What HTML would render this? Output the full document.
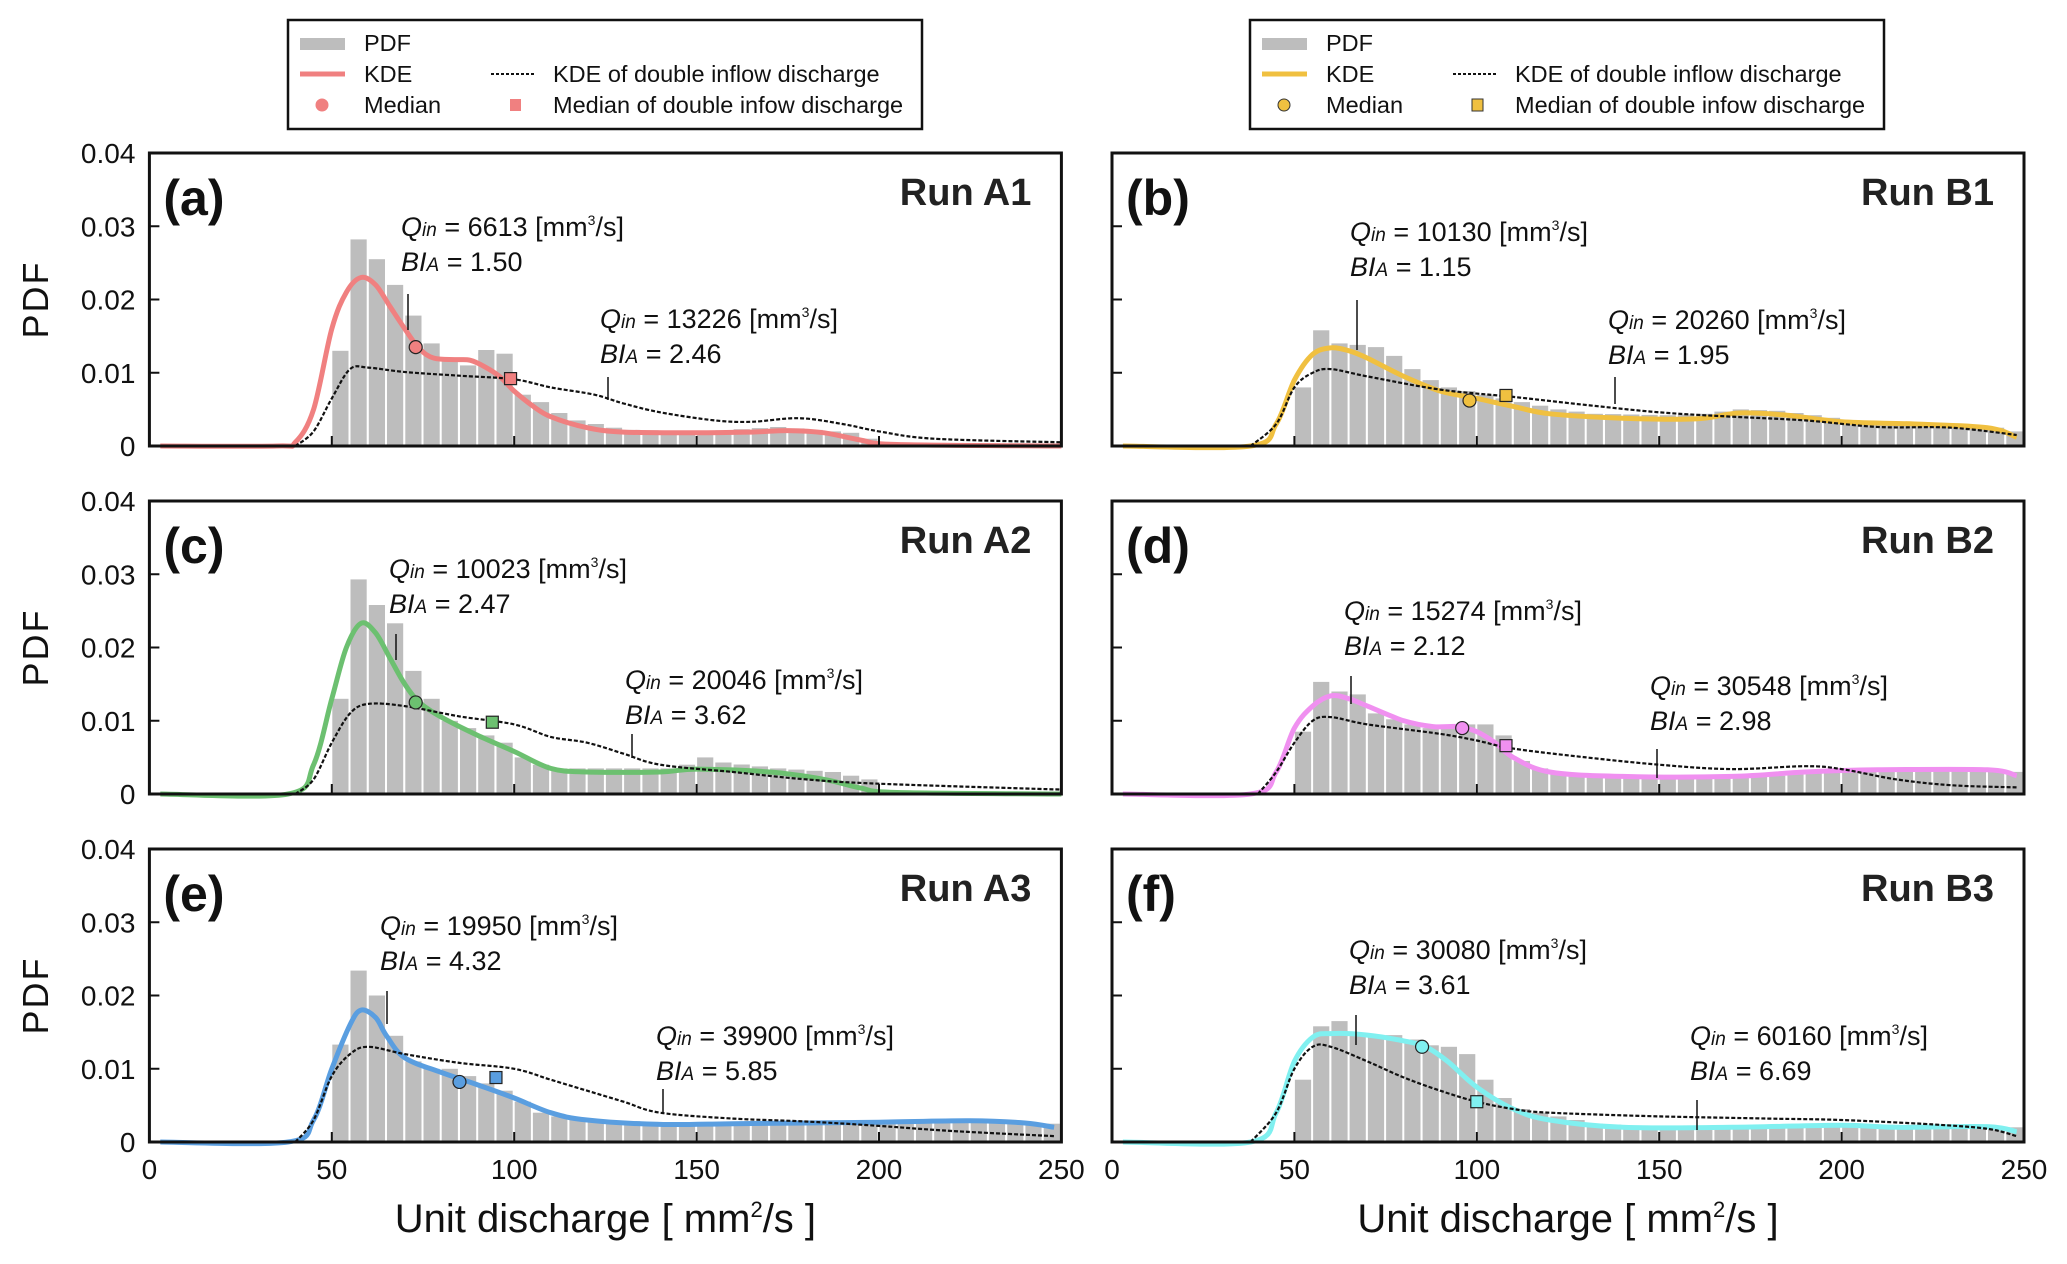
<!DOCTYPE html>
<html><head><meta charset="utf-8"><style>
html,body{margin:0;padding:0;background:#fff;}
svg{display:block;font-family:"Liberation Sans",Arial,sans-serif;}
</style></head><body>
<svg id="s" width="2067" height="1264" viewBox="0 0 2067 1264" xmlns="http://www.w3.org/2000/svg">
<g font-size="23.5" fill="#111">
<rect x="288" y="20" width="634" height="109" fill="#fff" stroke="#111" stroke-width="2.5"/>
<rect x="300" y="38" width="45" height="12" fill="#bdbdbd"/><text x="364" y="51">PDF</text>
<line x1="300" y1="74" x2="345" y2="74" stroke="#f08080" stroke-width="5"/><text x="364" y="82">KDE</text>
<circle cx="322" cy="105" r="6" fill="#f08080" stroke="#f08080"/><text x="364" y="113">Median</text>
<line x1="491" y1="74" x2="535" y2="74" stroke="#111" stroke-width="2" stroke-dasharray="3,2"/><text x="553" y="82">KDE of double inflow discharge</text>
<rect x="510" y="99" width="11" height="12" fill="#f08080"/><text x="553" y="113">Median of double infow discharge</text>

<rect x="1250" y="20" width="634" height="109" fill="#fff" stroke="#111" stroke-width="2.5"/>
<rect x="1262" y="38" width="45" height="12" fill="#bdbdbd"/><text x="1326" y="51">PDF</text>
<line x1="1262" y1="74" x2="1307" y2="74" stroke="#f0c040" stroke-width="5"/><text x="1326" y="82">KDE</text>
<circle cx="1284" cy="105" r="6" fill="#f0c040" stroke="#333" stroke-width="1"/><text x="1326" y="113">Median</text>
<line x1="1453" y1="74" x2="1497" y2="74" stroke="#111" stroke-width="2" stroke-dasharray="3,2"/><text x="1515" y="82">KDE of double inflow discharge</text>
<rect x="1472" y="99" width="11" height="12" fill="#f0c040" stroke="#333" stroke-width="1"/><text x="1515" y="113">Median of double infow discharge</text>
</g>
<g id="plots"></g>
</svg>
<script>
const NS="http://www.w3.org/2000/svg";
const G=document.getElementById('plots');
function el(t,a,txt){const e=document.createElementNS(NS,t);for(const k in a)e.setAttribute(k,a[k]);if(txt!==undefined)e.textContent=txt;G.appendChild(e);return e;}
const X0=[149.4,1112], W=912, PXU=912/250;
const TOP=[153,501,849], BOT=[446,794,1142], PY=293/40;
function interp(pts,u){if(u<=pts[0][0])return pts[0][1];for(let i=1;i<pts.length;i++){if(u<=pts[i][0]){const a=pts[i-1],b=pts[i];return a[1]+(b[1]-a[1])*(u-a[0])/(b[0]-a[0]);}}return pts[pts.length-1][1];}
function pathOf(pts,c,r){const P=pts.map(p=>[X0[c]+p[0]*PXU,BOT[r]-p[1]*PY]);let d="M"+P[0][0].toFixed(1)+","+P[0][1].toFixed(1);
for(let i=0;i<P.length-1;i++){const p0=P[Math.max(0,i-1)],p1=P[i],p2=P[i+1],p3=P[Math.min(P.length-1,i+2)];
const c1=[p1[0]+(p2[0]-p0[0])/6,p1[1]+(p2[1]-p0[1])/6],c2=[p2[0]-(p3[0]-p1[0])/6,p2[1]-(p3[1]-p1[1])/6];
d+=" C"+c1.map(v=>v.toFixed(1))+" "+c2.map(v=>v.toFixed(1))+" "+p2.map(v=>v.toFixed(1));}return d;}
const panels=[
{c:0,r:0,lab:"(a)",run:"Run A1",col:"#f08080",
bars:[[50,13],[55,28.2],[60,25.5],[65,22],[70,17.8],[75,14],[80,12],[85,11],[90,13.1],[95,12.6],[100,7],[105,6],[110,4.5],[115,3.5],[120,3],[125,2.5],[130,2.2],[150,2],[160,2.3],[170,2.6],[180,2.2],[190,1.8],[195,1],[200,0.3],[205,0]],
kde:[[3,0],[35,0],[40,0.5],[45,5],[50,16],[54,21],[58,23],[62,22],[66,19],[70,16],[74,13.3],[78,12],[84,11.8],[88,11.7],[92,10.8],[96,9.5],[100,7.5],[105,5.5],[110,4],[120,2.5],[130,1.9],[150,1.8],[165,1.9],[175,2.1],[185,1.8],[195,0.8],[205,0.2],[250,0]],
dash:[[40,0],[45,2],[50,6.5],[55,10.5],[60,10.7],[70,10.1],[85,9.6],[100,9.1],[110,8],[122,7],[130,5.8],[140,4.6],[155,3.5],[165,3.3],[178,3.8],[190,3],[200,2],[215,1],[250,0.5]],
med:[73,13.5],sq:[99,9.2],
t1:[401,236],l1:[408,294,330],t2:[600,328],l2:[608,377,400],
q1:"6613",b1:"1.50",q2:"13226",b2:"2.46"},
{c:1,r:0,lab:"(b)",run:"Run B1",col:"#f0c040",
bars:[[50,8],[55,15.8],[60,14],[65,13.8],[70,13.5],[75,12.3],[80,10.5],[85,9],[90,8],[95,7.5],[100,7],[105,6.5],[110,6],[115,5.5],[120,5],[130,4.4],[150,4.2],[160,4.4],[170,5],[180,4.8],[190,4.2],[200,3.5],[220,3],[240,2.5],[245,2]],
kde:[[3,0],[38,0],[45,3],[50,9],[55,12.5],[60,13.4],[65,13],[70,12],[80,9.5],[90,7.5],[100,6.5],[110,5.4],[120,4.4],[140,3.8],[160,3.7],[172,4.5],[185,4.2],[200,3.3],[220,3],[240,2.5],[248,1.2]],
dash:[[38,0],[45,3],[50,8],[55,10],[60,10.5],[70,9.5],[90,7.7],[110,6.7],[130,5.6],[150,4.6],[170,4],[190,3.5],[210,2.6],[230,2.5],[248,1.5]],
med:[98,6.2],sq:[108,6.9],
t1:[1350,241],l1:[1357,300,350],t2:[1608,329],l2:[1615,377,404],
q1:"10130",b1:"1.15",q2:"20260",b2:"1.95"},
{c:0,r:1,lab:"(c)",run:"Run A2",col:"#6cc070",
bars:[[50,13],[55,29.3],[60,25.8],[65,23.3],[70,16.8],[75,13],[80,10],[85,9],[90,8],[95,7],[100,5],[105,4],[110,3.5],[140,3.5],[145,4],[150,5],[155,4.3],[170,3.5],[185,3],[190,2.5],[195,2],[200,0.3],[205,0]],
kde:[[3,0],[38,0],[45,4],[50,13],[54,20],[58,23.3],[62,22],[66,18.5],[70,15],[74,12.5],[80,10.5],[90,8],[100,5.8],[110,3.5],[120,3],[140,3],[150,3.4],[170,3],[185,2],[195,0.8],[205,0.2],[250,0]],
dash:[[40,0],[45,2],[50,7],[55,11],[60,12.3],[70,12],[85,10.6],[100,9.5],[110,7.8],[120,7],[130,5.5],[140,4],[160,3],[180,2],[200,1.4],[250,0.6]],
med:[73,12.5],sq:[94,9.8],
t1:[389,578],l1:[396,634,660],t2:[625,689],l2:[632,734,758],
q1:"10023",b1:"2.47",q2:"20046",b2:"3.62"},
{c:1,r:1,lab:"(d)",run:"Run B2",col:"#f090f0",
bars:[[50,8.5],[55,15.3],[60,14],[65,13.6],[70,11],[75,10.2],[80,9.5],[85,9],[90,9],[95,9.5],[100,9.5],[105,8],[110,4.5],[115,3.5],[120,3],[130,2.5],[180,2.5],[190,3],[200,3.2],[250,3]],
kde:[[3,0],[38,0],[45,3],[50,9],[55,12],[60,13.4],[65,13],[70,12],[80,10],[88,9.2],[95,9.2],[100,8.5],[105,7],[110,5],[120,3],[140,2.4],[170,2.4],[190,3],[210,3.3],[240,3.3],[248,2.5]],
dash:[[40,0],[45,3],[50,7],[55,10],[60,10.5],[70,9.5],[90,8.2],[100,7.3],[110,6.2],[130,5],[150,4],[170,3.4],[190,3.8],[200,3.4],[215,2],[230,1.2],[248,0.9]],
med:[96,9],sq:[108,6.6],
t1:[1344,620],l1:[1351,676,704],t2:[1650,695],l2:[1657,749,778],
q1:"15274",b1:"2.12",q2:"30548",b2:"2.98"},
{c:0,r:2,lab:"(e)",run:"Run A3",col:"#5a9ee0",
bars:[[50,13.3],[55,23.4],[60,20],[65,14.5],[70,11],[75,10],[80,10],[85,9],[90,8],[95,7],[100,5.5],[105,4],[110,3.5],[120,3],[150,2.5],[200,2.8],[245,2.5]],
kde:[[3,0],[38,0],[45,3],[50,10],[55,16],[58,18],[62,17],[65,14.5],[70,11.5],[80,9.5],[90,7.8],[100,6],[110,4],[120,3],[140,2.4],[160,2.5],[180,2.6],[200,2.7],[225,2.9],[240,2.6],[248,2]],
dash:[[40,0],[45,3],[50,9],[55,12],[60,13],[70,12],[85,10.8],[100,10],[110,8.5],[120,7],[130,5.5],[140,4],[160,3.2],[180,2.8],[200,2.2],[220,1.5],[248,0.8]],
med:[85,8.2],sq:[95,8.8],
t1:[380,935],l1:[387,991,1024],t2:[656,1045],l2:[663,1089,1113],
q1:"19950",b1:"4.32",q2:"39900",b2:"5.85"},
{c:1,r:2,lab:"(f)",run:"Run B3",col:"#80f0f0",
bars:[[50,8.5],[55,15.8],[60,16.5],[65,14.5],[70,14.6],[75,14.6],[80,14],[85,13.2],[90,13],[95,12],[100,8.5],[105,6],[110,4.5],[115,4],[120,3.5],[125,3],[130,2.5],[150,2],[195,2.2],[200,2.5],[210,1.8],[245,2]],
kde:[[3,0],[38,0],[45,4],[50,11],[55,14.3],[60,14.8],[70,14.6],[80,13.8],[86,13],[92,11],[100,7.5],[110,4.5],[120,3],[140,2],[170,2],[200,2.3],[215,2],[240,2.1],[248,1.4]],
dash:[[38,0],[45,4],[50,10],[55,13],[60,13],[70,11],[80,8.8],[90,7],[100,5.5],[110,4.5],[120,4],[150,3.5],[180,3.2],[200,3],[225,2.4],[240,1.8],[248,0.8]],
med:[85,13],sq:[100,5.5],
t1:[1349,959],l1:[1356,1015,1045],t2:[1690,1045],l2:[1697,1100,1130],
q1:"30080",b1:"3.61",q2:"60160",b2:"6.69"}
];
for(const p of panels){
 const x0=X0[p.c], t=TOP[p.r], b=BOT[p.r];
 for(let u=50;u<250;u+=5){const v=interp(p.bars,u);if(v<=0.05)continue;
  el('rect',{x:(x0+u*PXU+0.5).toFixed(1),y:(b-v*PY).toFixed(1),width:(5*PXU-2).toFixed(1),height:(v*PY).toFixed(1),fill:'#bdbdbd'});}
 el('path',{d:pathOf(p.kde,p.c,p.r),fill:'none',stroke:p.col,'stroke-width':5,'stroke-linejoin':'round'});
 el('path',{d:pathOf(p.dash,p.c,p.r),fill:'none',stroke:'#111','stroke-width':2.2,'stroke-dasharray':'4,2'});
 el('circle',{cx:x0+p.med[0]*PXU,cy:b-p.med[1]*PY,r:6.5,fill:p.col,stroke:'#222','stroke-width':1.2});
 el('rect',{x:x0+p.sq[0]*PXU-6,y:b-p.sq[1]*PY-6,width:12,height:12,fill:p.col,stroke:'#222','stroke-width':1.2});
 el('rect',{x:x0,y:t,width:W,height:b-t,fill:'none',stroke:'#111','stroke-width':3});
 for(const u of [50,100,150,200]) el('line',{x1:x0+u*PXU,y1:b,x2:x0+u*PXU,y2:b-10,stroke:'#111','stroke-width':2});
 for(const v of [10,20,30]) el('line',{x1:x0,y1:b-v*PY,x2:x0+10,y2:b-v*PY,stroke:'#111','stroke-width':2});
 el('text',{x:x0+14,y:t+62,'font-size':50,'font-weight':'bold',fill:'#111'},p.lab);
 el('text',{x:x0+W-30,y:t+52,'font-size':38,'font-weight':'bold','text-anchor':'end',fill:'#222'},p.run);
 for(const [tx,ty,q,bb,l] of [[p.t1[0],p.t1[1],p.q1,p.b1,p.l1],[p.t2[0],p.t2[1],p.q2,p.b2,p.l2]]){
  const e1=el('text',{x:tx,y:ty,'font-size':27,fill:'#111'});
  e1.innerHTML='<tspan font-style="italic">Q</tspan><tspan font-style="italic" font-size="19">in</tspan> = '+q+' [mm<tspan font-size="14" dy="-11">3</tspan><tspan dy="11">/s]</tspan>';
  const e2=el('text',{x:tx,y:ty+35,'font-size':27,fill:'#111'});
  e2.innerHTML='<tspan font-style="italic">BI</tspan><tspan font-style="italic" font-size="19">A</tspan> = '+bb;
  el('line',{x1:l[0],y1:l[1],x2:l[0],y2:l[2],stroke:'#111','stroke-width':1.5});
 }
 if(p.c==0){
  for(const v of [0,10,20,30,40]) el('text',{x:x0-14,y:b-v*PY+10,'font-size':28,'text-anchor':'end',fill:'#111'},v==0?'0':(v/1000).toFixed(2));
  const cy=(t+b)/2; el('text',{x:48,y:cy,'font-size':36,'text-anchor':'middle',transform:'rotate(-90 48 '+cy+')',fill:'#111','letter-spacing':'2'},'PDF');
 }
 if(p.r==2){
  for(const u of [0,50,100,150,200,250]) el('text',{x:x0+u*PXU,y:1179,'font-size':28,'text-anchor':'middle',fill:'#111'},String(u));
  const e=el('text',{x:x0+W/2,y:1232,'font-size':40,'text-anchor':'middle',fill:'#111'});
  e.innerHTML='Unit discharge [ mm<tspan font-size="22" dy="-15">2</tspan><tspan dy="15">/s ]</tspan>';
 }
}
</script>
</body></html>
